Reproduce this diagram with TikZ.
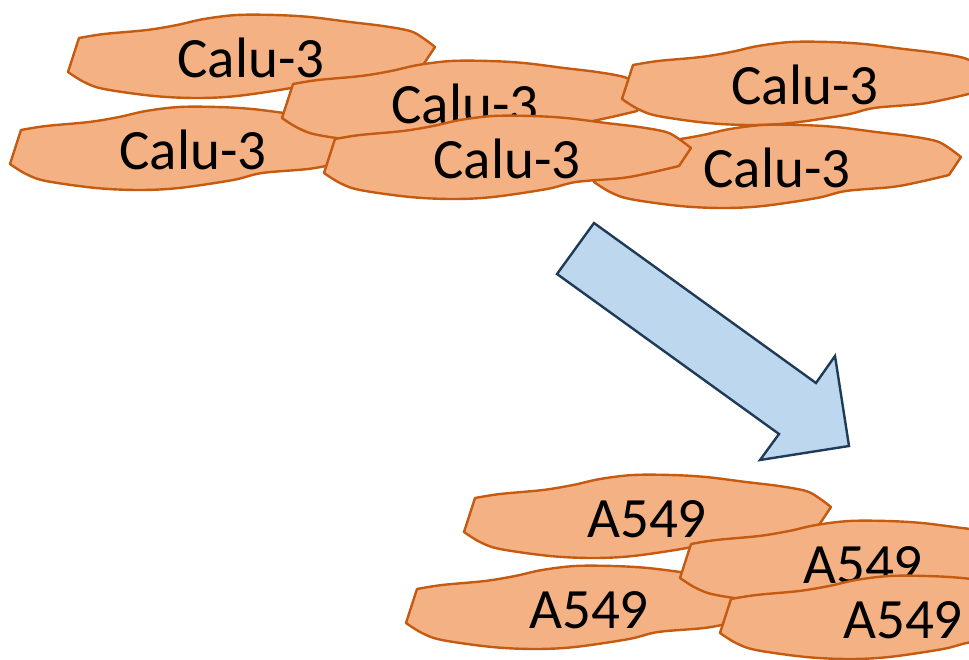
\documentclass[tikz,border=0pt]{standalone}
\usepackage{fontspec}
\setmainfont{Carlito}
\usepackage{tikz}
\definecolor{cellfill}{HTML}{F4B183}
\definecolor{celledge}{HTML}{C55A11}
\definecolor{arrowfill}{HTML}{BDD7EE}
\definecolor{arrowedge}{HTML}{1F3B57}

\begin{document}
\begin{tikzpicture}[
  x=1pt, y=-1pt,
  cell/.style={fill=cellfill, draw=celledge, line width=2.4pt, line join=round},
  celltext/.style={font=\fontsize{57}{60}\selectfont, inner sep=0pt, anchor=base},
  bigarrow/.style={fill=arrowfill, draw=arrowedge, line width=2.4pt, line join=miter},
  pics/cellshape/.style={code={
    \filldraw[cell] plot[smooth, tension=.55] coordinates {(79,38) (104,34) (147,30) (177,25) (204,19) (237,15) (275,15) (310,17) (350,22) (383,26) (410,31) (423,38) (435,47)}
      -- (423,65) -- plot[smooth, tension=.55] coordinates {(423,65) (393,72) (366,77) (320,81) (291,88) (237,96) (197,98) (154,96) (104,89) (84,82) (68,72)}
      -- cycle;
    \node[celltext] (-lbl) at (251,77) {#1};
  }}]
\clip (0,0) rectangle (969,659);
\pic (calu1) at (0,0) {cellshape=Calu-3};
\pic (calu2) at (-58,92) {cellshape=Calu-3};
\pic (calu3) at (214,46) {cellshape=Calu-3};
\pic (calu4) at (554,27) {cellshape=Calu-3};
\pic (calu5) at (526,110) {cellshape=Calu-3};
\pic (calu6) at (256,101) {cellshape=Calu-3};
\draw[bigarrow] (594,223) -- (816,383) -- (835,356) -- (849,446) -- (760,460) -- (779,434) -- (557,274) -- cycle;
\pic (a1) at (396,460) {cellshape=A549};
\pic (a2) at (338,551) {cellshape=A549};
\pic (a3) at (612,506) {cellshape=A549};
\pic (a4) at (652,561) {cellshape=A549};
\end{tikzpicture}
\end{document}
